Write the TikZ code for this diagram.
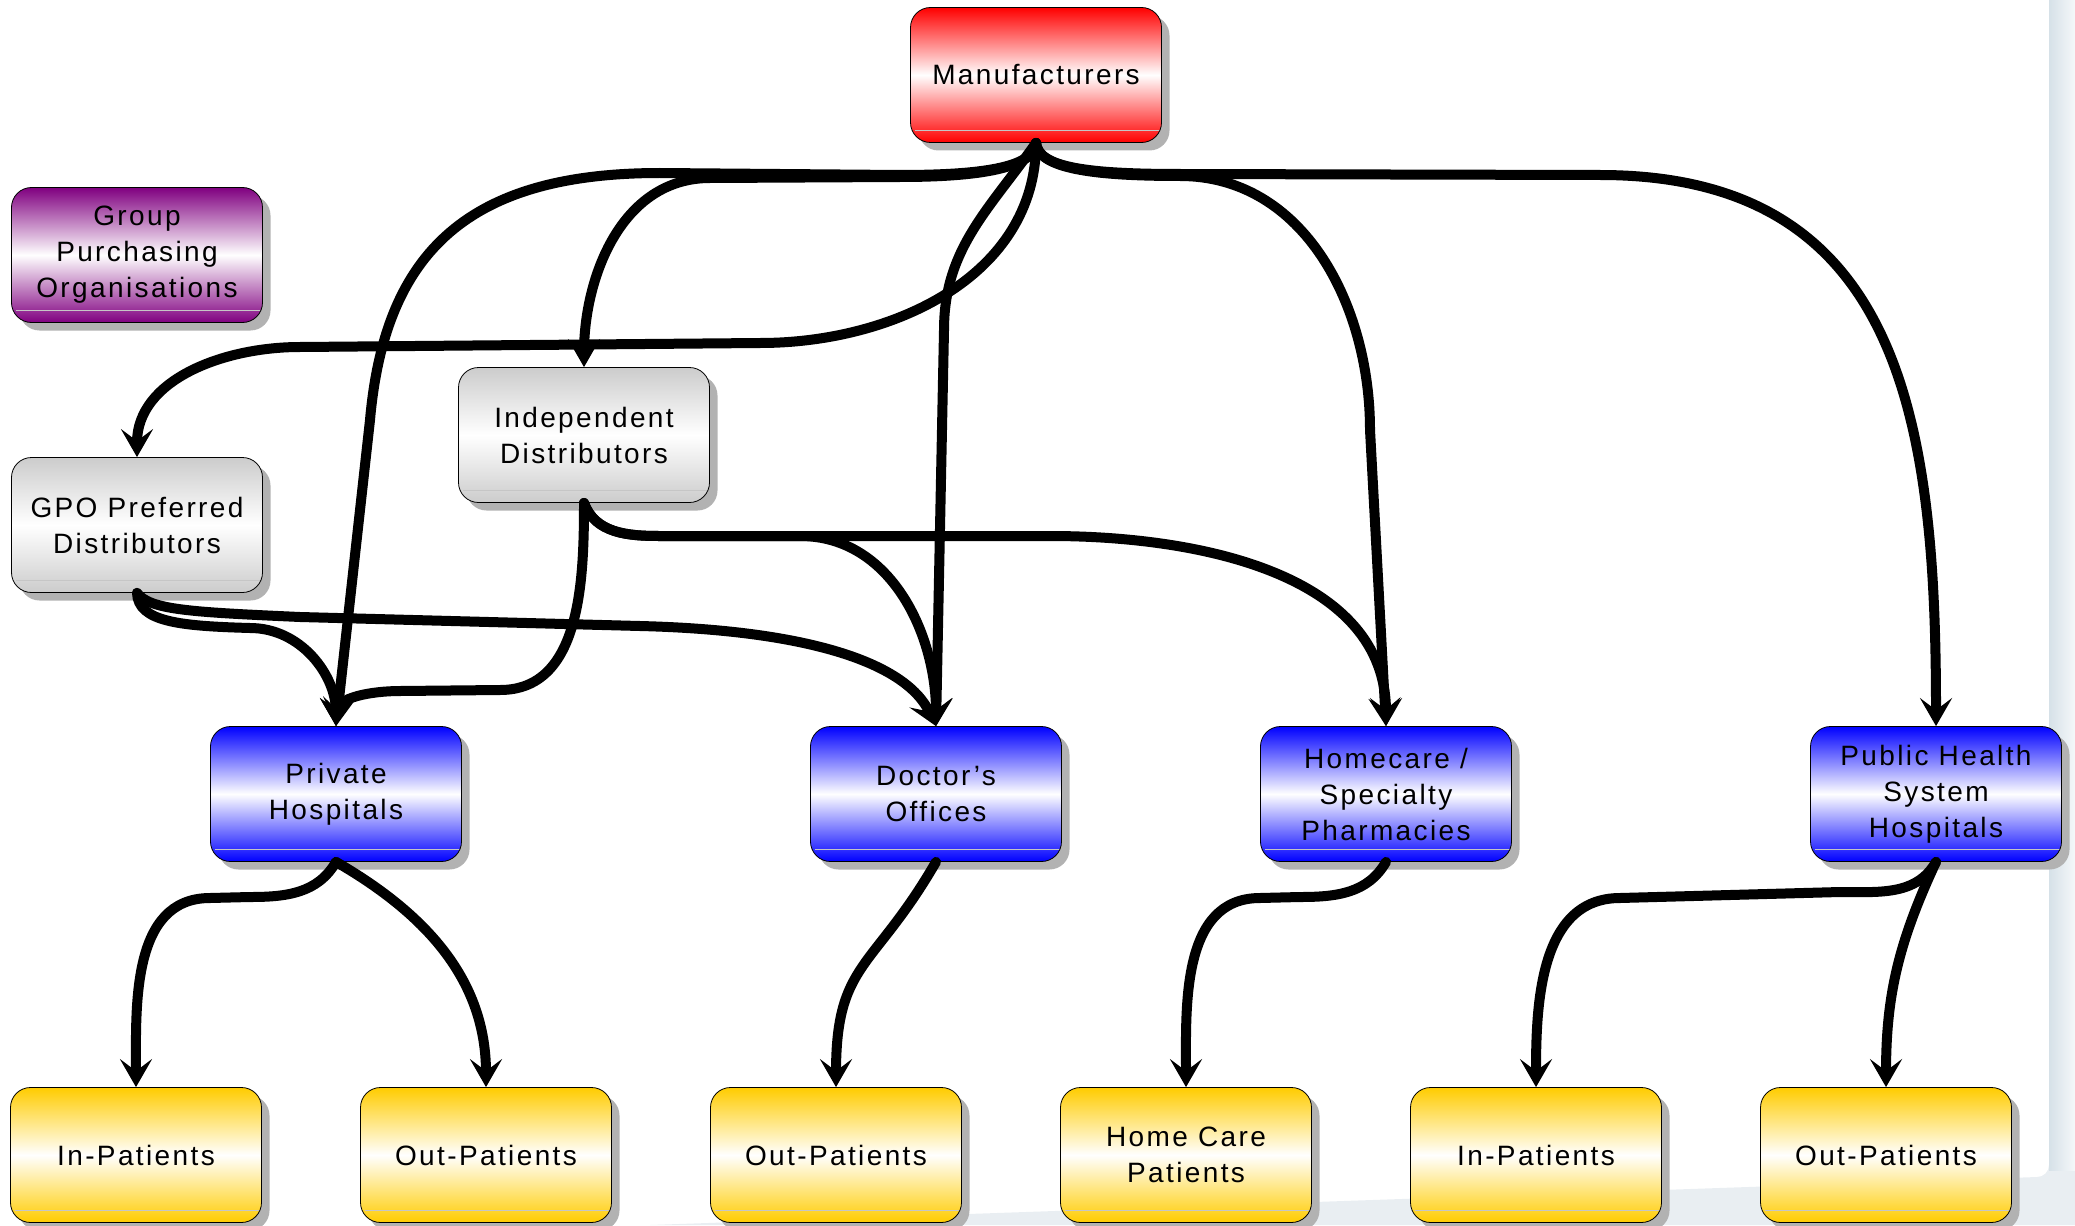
\documentclass[tikz,border=0pt]{standalone}
\usepackage{fontspec}
\setmainfont{Liberation Sans}[LetterSpace=8.5]
\usetikzlibrary{arrows.meta,shadows}
\definecolor{gpopurple}{RGB}{128,0,128}
\definecolor{gold}{RGB}{255,204,0}
\definecolor{pageshade}{RGB}{214,225,232}

\begin{document}
\begin{tikzpicture}[x=0.5pt,y=-0.5pt,node distance=175pt,
      box/.style={rectangle,rounded corners=10pt,draw,thin,align=center,
        minimum width=125.5pt,minimum height=67.5pt,
        font=\fontsize{14}{18}\selectfont,
        drop shadow={shadow xshift=4pt,shadow yshift=-4pt,fill=black!30,opacity=1},
        path picture={\draw[gray!45,line width=0.6pt]
          ([xshift=2pt,yshift=6pt]path picture bounding box.south west) --
          ([yshift=6pt]path picture bounding box.south east);}},
      red node/.style={box,top color=red,bottom color=red,middle color=white},
      purple node/.style={box,top color=gpopurple,bottom color=gpopurple,middle color=white},
      grey node/.style={box,top color=gray!40,bottom color=gray!40,middle color=white},
      blue node/.style={box,top color=blue,bottom color=blue,middle color=white},
      yellow node/.style={box,top color=gold,bottom color=gold,middle color=white},
      flow/.style={line width=5pt,line cap=round,
        -{Stealth[length=14pt,width=16pt,inset=6pt]}}]

      \useasboundingbox (0,0) rectangle (2075,1225);

      % page edge
      \fill[pageshade!55] (2049,0) -- (2049,1165) to[out=-90,in=0] (2037,1177)
        -- (650,1225) -- (2075,1225) -- (2075,0) -- cycle;
      \fill[left color=pageshade,right color=pageshade!25] (2049,0) rectangle (2075,1170);

      \node[red node] (1) at (1036,75) {Manufacturers};
      \node[purple node] (2) at (137,255) {Group\\Purchasing\\Organisations};
      \node[grey node] (3) at (584,435) {Independent\\Distributors};
      \node[grey node] (4) [below of=2,node distance=135pt] {GPO Preferred\\Distributors};

      \node[blue node] (5) at (336,794) {Private\\Hospitals};
      \node[blue node] (6) at (936,794) {Doctor’s\\Offices};
      \node[blue node] (7) at (1386,794) {Homecare /\\Specialty\\Pharmacies};
      \node[blue node] (8) at (1936,794) {Public Health\\System\\Hospitals};

      \node[yellow node] (9) at (136,1155) {In-Patients};
      \node[yellow node] (10) [right of=9] {Out-Patients};
      \node[yellow node] (11) [right of=10] {Out-Patients};
      \node[yellow node] (12) [right of=11] {Home Care\\Patients};
      \node[yellow node] (13) [right of=12] {In-Patients};
      \node[yellow node] (14) [right of=13] {Out-Patients};

      % from the manufacturers
      \draw[flow] (1.south) .. controls (1034,168) and (980,175) .. (900,175)
        -- (660,173) .. controls (470,173) and (385,250) .. (370,420) -- (5.north);
      \draw[flow] (1.south) .. controls (1034,168) and (980,177) .. (900,177)
        -- (710,178) to[out=180,in=90] (3.north);
      \draw[flow] (1.south) to[out=-90,in=0] (760,343) -- (300,347)
        to[out=180,in=90] (4.north);
      \draw[flow] (1.south) to[out=-125,in=90] (944,330) -- (6.north);
      \draw[flow] (1.south) .. controls (1038,168) and (1090,176) .. (1180,176)
        to[out=0,in=90] (1370,430) -- (7.north);
      \draw[flow] (1.south) .. controls (1038,168) and (1090,174) .. (1180,174)
        -- (1600,175) to[out=0,in=90,looseness=1.2] (8.north);

      % from the distributors
      \draw[flow] (3.south) to[out=-90,in=0] (500,690) -- (400,691)
        to[out=180,in=90] (5.north);
      \draw[flow] (3.south) to[out=-70,in=180] (660,536) -- (800,536)
        to[out=0,in=90] (6.north);
      \draw[flow] (3.south) to[out=-70,in=180] (660,536) -- (1050,536)
        to[out=0,in=90] (7.north);
      \draw[flow] (4.south) .. controls (138,622) and (180,626) .. (250,628)
        to[out=0,in=90] (5.north);
      \draw[flow] (4.south) .. controls (150,610) and (190,612) .. (300,617)
        -- (640,626) .. controls (800,630) and (905,660) .. (6.north);

      % to the patients
      \draw[flow] (5.south) to[out=-120,in=0] (250,897) -- (210,898)
        to[out=180,in=90] (9.north);
      \draw[flow] (7.south) to[out=-120,in=0] (1300,897) -- (1260,898)
        to[out=180,in=90] (12.north);
      \draw[flow] (8.south) to[out=-120,in=0] (1840,892) -- (1620,898)
        to[out=180,in=90] (13.north);
      \path[flow]
        (5.south) edge[out=-30,in=90] (10.north)
        (6.south) edge[out=-120,in=90,looseness=1.3] (11.north)
        (8.south) edge[out=-115,in=90] (14.north);
    \end{tikzpicture}
\end{document}
